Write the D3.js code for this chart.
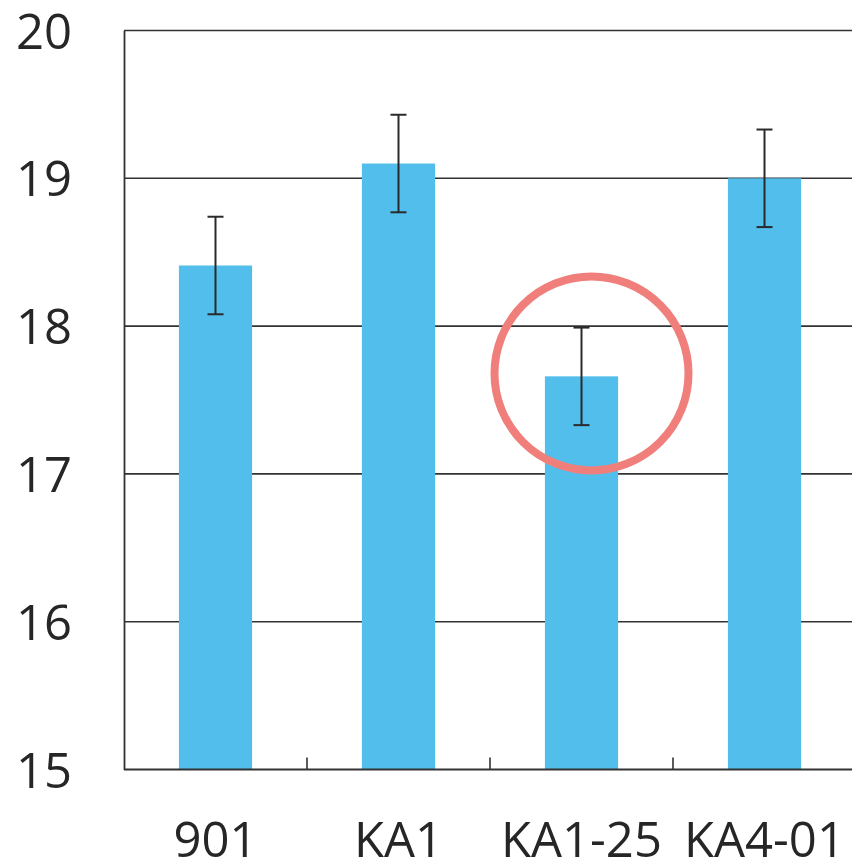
<!DOCTYPE html>
<html>
<head>
<meta charset="utf-8">
<script src="https://cdn.jsdelivr.net/npm/d3@7"></script>
<style>
  html, body { margin: 0; padding: 0; background: #ffffff; }
  svg { display: block; }
  text { font-family: "Open Sans", "Noto Sans", sans-serif; fill: #262626; }
</style>
</head>
<body>
<svg id="chart" width="852" height="864"></svg>
<script>
// ---- data ----
const categories = ["901", "KA1", "KA1-25", "KA4-01"];
const values = [18.41, 19.10, 17.66, 19.00];
const errors = [0.33, 0.33, 0.33, 0.33];
const yTicks = [15, 16, 17, 18, 19, 20];
const highlighted = "KA1-25";
const highlightValue = 17.68;

// ---- layout ----
const svg = d3.select("#chart");
const mLeft = 124, mRight = 856, mTop = 30.5, mBottom = 769.5;

const x = d3.scaleBand().domain(categories).range([mLeft, mRight])
  .paddingInner(0.6).paddingOuter(0.3);
const xCat = d3.scaleBand().domain(categories).range([mLeft, mRight]).padding(0);
const y = d3.scaleLinear().domain([15, 20]).range([mBottom, mTop]);

const axisColor = "#333333";

// gridlines (incl. top border)
svg.append("g").selectAll("line")
  .data(yTicks.filter(t => t > 15))
  .join("line")
  .attr("x1", mLeft).attr("x2", 852)
  .attr("y1", d => y(d)).attr("y2", d => y(d))
  .attr("stroke", axisColor).attr("stroke-width", 1.6);

// bars
svg.append("g").selectAll("rect")
  .data(categories)
  .join("rect")
  .attr("x", d => x(d))
  .attr("width", x.bandwidth())
  .attr("y", (d, i) => y(values[i]))
  .attr("height", (d, i) => y(15) - y(values[i]))
  .attr("fill", "#52beeb");

// error bars
const eg = svg.append("g").attr("stroke", "#2a2a2a").attr("stroke-width", 2);
categories.forEach((c, i) => {
  const cx = x(c) + x.bandwidth() / 2;
  const hi = y(values[i] + errors[i]);
  const lo = y(values[i] - errors[i]);
  eg.append("line").attr("x1", cx).attr("x2", cx).attr("y1", hi).attr("y2", lo);
  eg.append("line").attr("x1", cx - 8).attr("x2", cx + 8).attr("y1", hi).attr("y2", hi);
  eg.append("line").attr("x1", cx - 8).attr("x2", cx + 8).attr("y1", lo).attr("y2", lo);
});

// y axis
const yAxis = d3.axisLeft(y).tickValues(yTicks).tickSize(0).tickPadding(52)
  .tickFormat(d3.format("d"));
const ya = svg.append("g").attr("transform", `translate(${mLeft},0)`).call(yAxis);
ya.select(".domain").attr("stroke", axisColor).attr("stroke-width", 1.8);
ya.selectAll("text").attr("font-size", 49).attr("fill", "#262626")
  .attr("font-family", "'Open Sans', sans-serif").attr("dy", "0.36em");

// x axis
const xAxis = d3.axisBottom(x).tickSize(0).tickPadding(53);
const xa = svg.append("g").attr("transform", `translate(0,${mBottom})`).call(xAxis);
xa.select(".domain").attr("d", `M${mLeft},0H852`).attr("stroke", axisColor).attr("stroke-width", 1.8);
xa.selectAll("text").attr("font-size", 49).attr("fill", "#262626")
  .attr("font-family", "'Open Sans', sans-serif").attr("dy", "0.71em");

// inner category boundary ticks
svg.append("g").selectAll("line")
  .data(categories)
  .join("line")
  .attr("x1", d => xCat(d) + xCat.bandwidth())
  .attr("x2", d => xCat(d) + xCat.bandwidth())
  .attr("y1", mBottom).attr("y2", mBottom - 12)
  .attr("stroke", axisColor).attr("stroke-width", 1.6);

// highlight circle
svg.append("circle")
  .attr("cx", x(highlighted) + x.bandwidth() / 2 + 10)
  .attr("cy", y(highlightValue))
  .attr("r", 97)
  .attr("fill", "none")
  .attr("stroke", "#f07f7b")
  .attr("stroke-width", 8);
</script>
</body>
</html>
